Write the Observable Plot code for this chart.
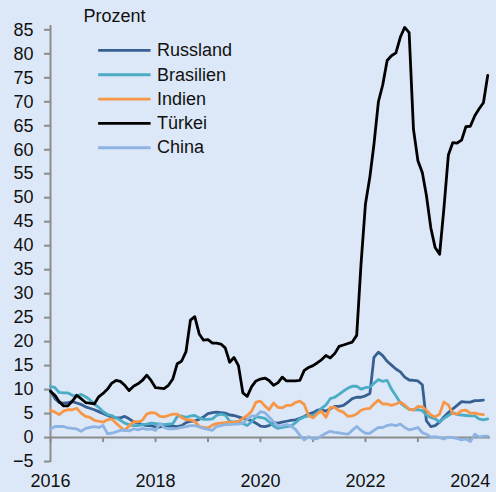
<!DOCTYPE html>
<html>
<head>
<meta charset="utf-8">
<script src="https://cdn.jsdelivr.net/npm/d3@7"></script>
<script src="https://cdn.jsdelivr.net/npm/@observablehq/plot@0.6"></script>
<style>
  html, body { margin: 0; padding: 0; background: #dce8f7; }
  #chart { width: 496px; height: 492px; }
</style>
</head>
<body>
<div id="chart"></div>
<script>
// Monthly year-on-year inflation, starting January 2016
const startMonth = "2016-01";
const names = ["Russland", "Brasilien", "Indien", "Türkei", "China"];
const colors = ["#376092", "#4bacc6", "#f79646", "#000000", "#8db3e2"];

const russland = [
  9.8, 8.1, 7.3, 7.2, 7.3, 7.5, 7.2, 6.9, 6.4, 6.1, 5.8, 5.4,
  5.0, 4.6, 4.3, 4.1, 4.1, 4.4, 3.9, 3.3, 3.0, 2.7, 2.5, 2.5,
  2.2, 2.2, 2.4, 2.4, 2.4, 2.3, 2.5, 3.1, 3.4, 3.5, 3.8, 4.3,
  5.0, 5.2, 5.3, 5.2, 5.1, 4.7, 4.6, 4.3, 4.0, 3.8, 3.5, 3.0,
  2.4, 2.3, 2.5, 3.1, 3.0, 3.2, 3.4, 3.6, 3.7, 4.0, 4.4, 4.9,
  5.2, 5.7, 5.8, 5.5, 6.0, 6.5, 6.5, 6.7, 7.4, 8.1, 8.4, 8.4,
  8.7, 9.2, 16.7, 17.8, 17.1, 15.9, 15.1, 14.3, 13.7, 12.6, 12.0, 11.9,
  11.8, 11.0, 3.5, 2.3, 2.5, 3.2, 4.3, 5.2, 6.0, 6.7, 7.5, 7.4,
  7.4, 7.7, 7.7, 7.8
];
const brasilien = [
  10.7, 10.4, 9.4, 9.3, 9.3, 8.8, 8.7, 9.0, 8.5, 7.9, 7.0, 6.3,
  5.4, 4.8, 4.6, 4.1, 3.6, 3.0, 2.7, 2.5, 2.5, 2.7, 2.8, 3.0,
  2.9, 2.8, 2.7, 2.8, 2.9, 4.4, 4.5, 4.2, 4.5, 4.6, 4.1, 3.8,
  3.8, 3.9, 4.6, 4.9, 4.7, 3.4, 3.2, 3.4, 2.9, 2.5, 3.3, 4.3,
  4.2, 4.0, 3.3, 2.4, 1.9, 2.1, 2.3, 2.4, 3.1, 3.9, 4.3, 4.5,
  4.6, 5.2, 6.1, 6.8, 8.1, 8.4, 9.0, 9.7, 10.3, 10.7, 10.7, 10.1,
  10.4, 10.5, 11.3, 12.1, 11.7, 11.9, 10.1, 8.7, 7.2, 6.5, 5.9, 5.8,
  5.8, 5.6, 4.7, 4.2, 3.9, 3.2, 4.0, 4.6, 5.2, 4.8, 4.7, 4.6,
  4.5, 4.5, 3.9, 3.7, 3.9
];
const indien = [
  5.7, 5.3, 4.8, 5.5, 5.8, 5.8, 6.1, 5.1, 4.4, 4.2, 3.6, 3.4,
  3.2, 3.7, 3.9, 3.0, 2.2, 1.5, 2.4, 3.3, 3.3, 3.6, 4.9, 5.2,
  5.1, 4.4, 4.3, 4.6, 4.9, 4.9, 4.2, 3.7, 3.7, 3.4, 2.3, 2.1,
  2.0, 2.6, 2.9, 3.0, 3.1, 3.2, 3.2, 3.3, 4.0, 4.6, 5.5, 7.4,
  7.6, 6.6, 5.8, 7.2, 6.3, 6.2, 6.7, 6.7, 7.3, 7.6, 6.9, 4.6,
  4.1, 5.0, 5.5, 4.2, 6.3, 6.3, 5.6, 5.3, 4.4, 4.5, 4.9, 5.7,
  6.0, 6.1, 7.0, 7.8, 7.0, 7.0, 6.7, 7.0, 7.4, 6.8, 5.9, 5.7,
  6.5, 6.4, 5.7, 4.7, 4.3, 4.9, 7.4, 6.8, 5.0, 4.9, 5.6, 5.7,
  5.1, 5.1, 4.9, 4.8
];
const tuerkei = [
  9.6, 8.8, 7.5, 6.6, 6.6, 7.6, 8.8, 8.1, 7.3, 7.2, 7.0, 8.5,
  9.2, 10.1, 11.3, 11.9, 11.7, 10.9, 9.8, 10.7, 11.2, 11.9, 13.0, 11.9,
  10.4, 10.3, 10.2, 10.9, 12.2, 15.4, 15.9, 17.9, 24.5, 25.2, 21.6, 20.3,
  20.4, 19.7, 19.7, 19.5, 18.7, 15.7, 16.7, 15.0, 9.3, 8.6, 10.6, 11.8,
  12.2, 12.4, 11.9, 10.9, 11.4, 12.6, 11.8, 11.8, 11.8, 11.9, 14.0, 14.6,
  15.0, 15.6, 16.2, 17.1, 16.6, 17.5, 19.0, 19.3, 19.6, 19.9, 21.3, 36.1,
  48.7, 54.4, 61.1, 70.0, 73.5, 78.6, 79.6, 80.2, 83.5, 85.5, 84.4, 64.3,
  57.7, 55.2, 50.5, 43.7, 39.6, 38.2, 47.8, 58.9, 61.5, 61.4, 62.0, 64.8,
  64.9, 67.1, 68.5, 69.8, 75.5
];
const china = [
  1.8, 2.3, 2.3, 2.3, 2.0, 1.9, 1.8, 1.3, 1.9, 2.1, 2.3, 2.1,
  2.5, 0.8, 0.9, 1.2, 1.5, 1.5, 1.4, 1.8, 1.6, 1.9, 1.7, 1.8,
  1.5, 2.9, 2.1, 1.8, 1.8, 1.9, 2.1, 2.3, 2.5, 2.5, 2.2, 1.9,
  1.7, 1.5, 2.3, 2.5, 2.7, 2.7, 2.8, 2.8, 3.0, 3.8, 4.5, 4.5,
  5.4, 5.2, 4.3, 3.3, 2.4, 2.5, 2.7, 2.4, 1.7, 0.5, -0.5, 0.2,
  -0.3, -0.2, 0.4, 0.9, 1.3, 1.1, 1.0, 0.8, 0.7, 1.5, 2.3, 1.5,
  0.9, 0.9, 1.5, 2.1, 2.1, 2.5, 2.7, 2.5, 2.8, 2.1, 1.6, 1.8,
  2.1, 1.0, 0.7, 0.1, 0.2, 0.0, -0.3, 0.1, 0.0, -0.2, -0.5, -0.3,
  -0.8, 0.7, 0.1, 0.3, 0.3
];

const yTicks = [-5, 0, 5, 10, 15, 20, 25, 30, 35, 40, 45, 50, 55, 60, 65, 70, 75, 80, 85];
const xTickYears = [2016, 2017, 2018, 2019, 2020, 2021, 2022, 2023, 2024];
const xLabelYears = [2016, 2018, 2020, 2022, 2024];
const unitLabel = "Prozent";

// ---- build tables ----
const parseMonth = d3.utcParse("%Y-%m");
const start = parseMonth(startMonth);
const seriesValues = [russland, brasilien, indien, tuerkei, china];
const rows = names.flatMap((name, k) =>
  seriesValues[k].map((v, i) => ({ name, date: d3.utcMonth.offset(start, i), value: v }))
);
const yearDate = (y) => new Date(Date.UTC(y, 0, 1));
const legendRows = names.map((name, i) => ({ name, y: 80.7 - i * 5.07 }));

const gray = "#8c8c8c";
const font = "'Liberation Sans', Arial, Helvetica, sans-serif";

const chart = Plot.plot({
  width: 496,
  height: 492,
  marginLeft: 50,
  marginRight: 0,
  marginTop: 25,
  marginBottom: 30,
  style: { background: "transparent", fontFamily: font, fontSize: "18px", color: "#111111" },
  x: { type: "utc", domain: [yearDate(2016), new Date(Date.UTC(2024, 6, 1))] },
  y: { domain: [-5.2, 85.9] },
  color: { domain: names, range: colors },
  marks: [
    Plot.ruleY([0], { stroke: gray, strokeWidth: 2, insetRight: 6 }),
    Plot.ruleX(xTickYears.map(yearDate), { y1: 0, y2: -1.05, stroke: gray, strokeWidth: 2 }),
    Plot.ruleX([yearDate(2016)], { stroke: gray, strokeWidth: 2 }),
    Plot.axisY(yTicks, {
      tickSize: 6, tickPadding: 11, stroke: gray, strokeWidth: 2,
      fill: "#111111", fontSize: 18, label: null
    }),
    Plot.axisX(xLabelYears.map(yearDate), {
      tickSize: 0, tickPadding: 12, tickFormat: d3.utcFormat("%Y"),
      fill: "#111111", fontSize: 18, label: null
    }),
    Plot.line(rows, {
      x: "date", y: "value", z: "name", stroke: "name",
      strokeWidth: 2.8, strokeLinejoin: "round"
    }),
    Plot.ruleY(legendRows, {
      y: "y", x1: new Date(Date.UTC(2016, 11, 1)), x2: new Date(Date.UTC(2017, 11, 1)),
      stroke: "name", strokeWidth: 2.8
    }),
    Plot.text(legendRows, {
      y: "y", x: new Date(Date.UTC(2017, 11, 1)), text: "name", dx: 6,
      textAnchor: "start", fill: "#111111", fontSize: 18
    }),
    Plot.text([unitLabel], {
      frameAnchor: "top-left", dx: 33, dy: -16, textAnchor: "start",
      fill: "#111111", fontSize: 18
    })
  ]
});
document.getElementById("chart").appendChild(chart);
</script>
</body>
</html>
